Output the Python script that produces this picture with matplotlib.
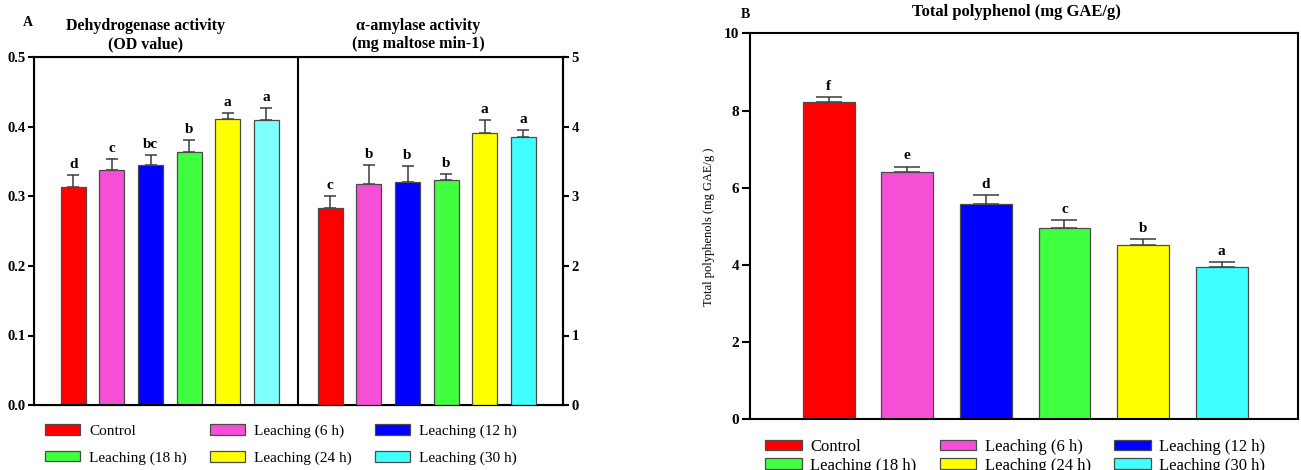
import numpy as np
import matplotlib
matplotlib.use("Agg")
import matplotlib.pyplot as plt
from matplotlib.patches import Patch

plt.rcParams['font.family'] = ['Liberation Serif', 'DejaVu Serif']

# data
groups = ["Control", "Leaching (6 h)", "Leaching (12 h)",
          "Leaching (18 h)", "Leaching (24 h)", "Leaching (30 h)"]

dehydrogenase = [0.314, 0.338, 0.345, 0.364, 0.411, 0.410]
dehydrogenase_err = [0.017, 0.016, 0.015, 0.017, 0.009, 0.017]
dehydrogenase_letters = ["d", "c", "bc", "b", "a", "a"]

amylase = [2.84, 3.18, 3.21, 3.24, 3.91, 3.86]
amylase_err = [0.17, 0.27, 0.23, 0.08, 0.19, 0.10]
amylase_letters = ["c", "b", "b", "b", "a", "a"]

polyphenol = [8.23, 6.40, 5.57, 4.97, 4.52, 3.94]
polyphenol_err = [0.12, 0.15, 0.25, 0.20, 0.16, 0.13]
polyphenol_letters = ["f", "e", "d", "c", "b", "a"]

colors = ["#FF0000", "#F550D5", "#0000FF", "#40FF40", "#FFFF00", "#40FFFF"]
colors_dh = colors[:5] + ["#80FFFF"]

EDGE = "#4a4a4a"


def draw_bars(ax, x, vals, errs, letters, cols, width, capsize, fs):
    ax.bar(x, vals, width=width, color=cols, edgecolor=EDGE, linewidth=0.9, zorder=2)
    ax.errorbar(x, vals, yerr=[np.zeros(len(vals)), errs], fmt="none",
                ecolor="#3a3a3a", elinewidth=1.1, capsize=capsize, capthick=1.1, zorder=1)
    for xi, v, e, lab in zip(x, vals, errs, letters):
        ax.annotate(lab, (xi, v + e), xytext=(0, 3), textcoords="offset points",
                    ha="center", va="bottom", fontsize=fs, fontweight="bold")


def style_ticks(ax, size):
    for lab in ax.get_yticklabels():
        lab.set_fontweight("bold")
        lab.set_fontsize(size)


fig = plt.figure(figsize=(13.01, 4.70), dpi=100)

# ---------------- panel A ----------------
axA = fig.add_axes([34 / 1301, 1 - 405 / 470, (563 - 34) / 1301, (405 - 57.5) / 470])
xA_left = np.arange(6)
xA_right = np.arange(6) + 6.66
draw_bars(axA, xA_left, dehydrogenase, dehydrogenase_err, dehydrogenase_letters,
          colors_dh, 0.65, 4.3, 11)
axA.set_ylim(0, 0.5)
axA.set_xlim(-1.02, 12.69)
axA.set_yticks(np.arange(0, 0.51, 0.1))
axA.set_yticklabels([f"{t:.1f}" for t in np.arange(0, 0.51, 0.1)])
axA.set_xticks([])
axA.tick_params(axis="y", direction="out", length=4, width=1.5, pad=2)
for s in axA.spines.values():
    s.set_linewidth(1.5)
axA.axvline(5.83, color="black", lw=1.5)
style_ticks(axA, 10.5)

axA2 = axA.twinx()
draw_bars(axA2, xA_right, amylase, amylase_err, amylase_letters,
          colors, 0.65, 4.3, 11)
axA2.set_ylim(0, 5)
axA2.set_yticks(range(6))
axA2.tick_params(axis="y", direction="out", length=4, width=1.5, pad=2)
axA2.spines["right"].set_linewidth(1.5)
style_ticks(axA2, 10.5)

fig.text(28 / 1301, 1 - 23 / 470, "A", fontsize=10, fontweight="bold", ha="center", va="center")
fig.text(146 / 1301, 1 - 35 / 470, "Dehydrogenase activity\n(OD value)", fontsize=11.5,
         fontweight="bold", ha="center", va="center", linespacing=1.25)
fig.text(418 / 1301, 1 - 35 / 470, "α-amylase activity\n(mg maltose min-1)", fontsize=11.5,
         fontweight="bold", ha="center", va="center", linespacing=1.25)

# legend A (rows: Control, 6h, 12h / 18h, 24h, 30h)
order = [0, 3, 1, 4, 2, 5]
handles = [Patch(facecolor=colors[i], edgecolor=EDGE, linewidth=0.9, label=groups[i]) for i in order]
fig.legend(handles=handles, ncol=3, loc="upper left", frameon=False,
           bbox_to_anchor=(45 / 1301, 1 - 424 / 470), borderpad=0, borderaxespad=0,
           fontsize=11, handlelength=2.3, handleheight=0.7, handletextpad=0.6,
           columnspacing=1.5, labelspacing=0.85)

# ---------------- panel B ----------------
axB = fig.add_axes([750 / 1301, 1 - 419.3 / 470, 548 / 1301, 385.9 / 470])
xB = np.arange(6)
draw_bars(axB, xB, polyphenol, polyphenol_err, polyphenol_letters,
          colors, 0.66, 9.4, 11)
axB.set_ylim(0, 10)
axB.set_xlim(-1.0, 5.97)
axB.set_yticks(range(0, 11, 2))
axB.set_xticks([])
axB.tick_params(axis="y", direction="out", length=6, width=1.5, pad=2)
for s in axB.spines.values():
    s.set_linewidth(1.5)
style_ticks(axB, 11)
axB.set_ylabel("Total polyphenols (mg GAE/g )", fontsize=9, labelpad=6)

fig.text(745 / 1301, 1 - 15 / 470, "B", fontsize=10, fontweight="bold", ha="center", va="center")
fig.text(1016 / 1301, 1 - 12 / 470, "Total polyphenol (mg GAE/g)", fontsize=12,
         fontweight="bold", ha="center", va="center")

# legend B runs off the bottom edge, as in the original figure
fig.legend(handles=handles, ncol=3, loc="upper left", frameon=False,
           bbox_to_anchor=(765 / 1301, 1 - 439 / 470), borderpad=0, borderaxespad=0,
           fontsize=12, handlelength=2.2, handleheight=0.6, handletextpad=0.5,
           columnspacing=1.4, labelspacing=0.15)

fig.savefig("out.png", dpi=100)
